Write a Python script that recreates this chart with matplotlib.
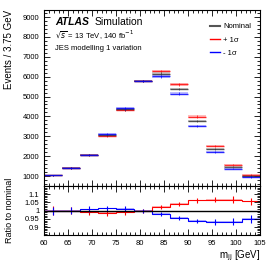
import numpy as np
import matplotlib.pyplot as plt
from matplotlib.ticker import MultipleLocator, FixedLocator, FormatStrFormatter
from matplotlib.lines import Line2D

plt.rcParams["font.family"] = ["Liberation Sans", "DejaVu Sans"]

# m_jj binning, 3.75 GeV bins from 60 to 105
edges = np.arange(60, 105.01, 3.75)

# nominal event yields per bin
nominal = [1030, 1400, 2060, 3085, 4350, 5780, 6150, 5380, 3760, 2350, 1470, 1000]
nominal_err = [30, 35, 40, 50, 55, 65, 70, 65, 55, 45, 35, 30]

# ratio of the +1 sigma / -1 sigma variations to nominal
ratio_up = [1.001, 1.0, 0.992, 0.984, 0.99, 1.0, 1.022, 1.042, 1.062, 1.066, 1.066, 1.056]
ratio_down = [0.999, 1.001, 1.008, 1.014, 1.012, 1.0, 0.978, 0.955, 0.938, 0.932, 0.933, 0.95]
ratio_err = [0.025, 0.02, 0.018, 0.016, 0.014, 0.012, 0.012, 0.012, 0.014, 0.016, 0.02, 0.022]
ratio_ticks = [0.9, 0.95, 1.0, 1.05, 1.1]
band = 0.005

nominal = np.array(nominal, dtype=float)
up = nominal * np.array(ratio_up)
down = nominal * np.array(ratio_down)
err = np.array(nominal_err, dtype=float)
centers = 0.5 * (edges[:-1] + edges[1:])
width = edges[1] - edges[0]

RED = "#ff0000"
BLUE = "#0000ff"
BLACK = "#000000"

fig = plt.figure(figsize=(2.74, 2.66), dpi=100)
ax = fig.add_axes([0.161, 0.301, 0.788, 0.661])
rax = fig.add_axes([0.161, 0.115, 0.788, 0.186], sharex=ax)


def draw_hist(a, vals, color):
    a.bar(centers, 2 * err, bottom=vals - err, width=width, color=color,
          alpha=0.25, linewidth=0)
    a.hlines(vals, edges[:-1], edges[1:], colors=color, linewidth=1.0, alpha=0.8)
    a.errorbar(centers, vals, yerr=err, fmt="none", ecolor=color,
               elinewidth=0.6, alpha=0.8)


draw_hist(ax, up, RED)
draw_hist(ax, nominal, "#333333")
draw_hist(ax, down, BLUE)

ax.set_xlim(60, 105)
ax.set_ylim(500, 9350)
ax.yaxis.set_major_locator(MultipleLocator(1000))
ax.yaxis.set_minor_locator(MultipleLocator(200))
ax.xaxis.set_major_locator(MultipleLocator(5))
ax.xaxis.set_minor_locator(MultipleLocator(1))
ax.set_ylabel("Events / 3.75 GeV", fontsize=7, loc="top")

ax.text(0.05, 0.93, "ATLAS", transform=ax.transAxes, fontsize=7.5,
        fontweight="bold", fontstyle="italic", va="center")
ax.text(0.235, 0.93, "Simulation", transform=ax.transAxes, fontsize=7.5,
        va="center")
ax.text(0.05, 0.855, r"$\sqrt{s}$ = 13 TeV, 140 fb$^{-1}$", transform=ax.transAxes,
        fontsize=5.5, va="center")
ax.text(0.05, 0.78, "JES modelling 1 variation", transform=ax.transAxes,
        fontsize=5.5, va="center")

handles = [Line2D([], [], color="#555555", lw=1.5),
           Line2D([], [], color=RED, lw=1.0),
           Line2D([], [], color=BLUE, lw=1.0)]
ax.legend(handles, ["Nominal", "+ 1σ", "- 1σ"], loc="upper right",
          bbox_to_anchor=(0.99, 0.965), frameon=False, fontsize=5.5,
          handlelength=1.3, handletextpad=0.4, labelspacing=0.75)

# ratio panel
for r, color in [(np.array(ratio_up), RED), (np.array(ratio_down), BLUE)]:
    rax.stairs(r + band, edges, baseline=r - band, fill=True, color=color,
               alpha=0.3, linewidth=0)
    rax.stairs(r, edges, baseline=None, color=color, linewidth=0.8)
    rax.errorbar(centers, r, yerr=ratio_err, fmt="none", ecolor=color,
                 elinewidth=0.8)
rax.axhline(1.0, color=BLACK, linewidth=1.0)

rax.set_ylim(0.85, 1.15)
rax.yaxis.set_major_locator(FixedLocator(ratio_ticks))
rax.yaxis.set_minor_locator(MultipleLocator(0.01))
rax.yaxis.set_major_formatter(FormatStrFormatter("%g"))
rax.set_ylabel("Ratio to nominal", fontsize=6.5)
rax.set_xlabel(r"m$_{\rm jj}$ [GeV]", fontsize=7, loc="right", labelpad=1)

for a in (ax, rax):
    a.tick_params(which="both", direction="in", top=True, right=True,
                  labelsize=5.5, width=0.6)
    a.tick_params(which="major", length=4)
    a.tick_params(which="minor", length=2)
    for s in a.spines.values():
        s.set_linewidth(0.8)
ax.tick_params(labelbottom=False)
ax.yaxis.set_label_coords(-0.14, 1.0)
rax.yaxis.set_label_coords(-0.14, 0.5)

fig.savefig("out.png", dpi=100)
